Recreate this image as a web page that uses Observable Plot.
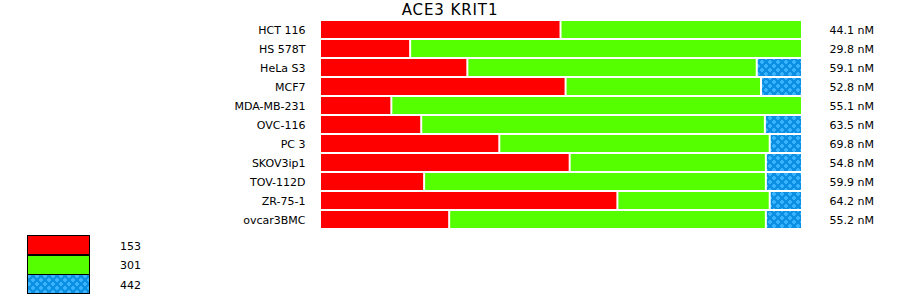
<!DOCTYPE html>
<html>
<head>
<meta charset="utf-8">
<script src="https://cdn.jsdelivr.net/npm/d3@7"></script>
<script src="https://cdn.jsdelivr.net/npm/@observablehq/plot@0.6"></script>
<style>
  html, body { margin: 0; padding: 0; background: #fff; }
  body { width: 900px; height: 299px; position: relative; overflow: hidden; font-family: "DejaVu Sans", sans-serif; }
  #title { position: absolute; left: 0; top: 0; width: 900px; height: 20px; text-align: center; font-size: 15px; letter-spacing: 0.9px; line-height: 20px; color: #000; }
  #chart { position: absolute; left: 0; top: 20px; }
  #legend { position: absolute; left: 27px; top: 235px; }
  .row { position: relative; height: 19.7px; }
  .sw { position: absolute; left: 0; top: 0; }
  .lab { position: absolute; left: 93px; top: 1.5px; font-size: 11px; line-height: 20px; color: #000; }
</style>
</head>
<body>
<svg width="0" height="0" style="position:absolute">
  <defs>
    <pattern id="dots" width="8" height="8" patternUnits="userSpaceOnUse">
      <rect width="8" height="8" fill="#0b8fe2"/>
      <path d="M1 0h2v1h1v2h-1v1h-2v-1h-1v-2h1z" fill="#39b2ff"/>
      <path d="M5 4h2v1h1v2h-1v1h-2v-1h-1v-2h1z" fill="#39b2ff"/>
    </pattern>
  </defs>
</svg>
<div id="title">ACE3 KRIT1</div>
<div id="chart"></div>
<div id="legend"></div>
<script>
const cellLines = ["HCT 116","HS 578T","HeLa S3","MCF7","MDA-MB-231","OVC-116","PC 3","SKOV3ip1","TOV-112D","ZR-75-1","ovcar3BMC"];
const series = ["153","301","442"];
const v153 = [49.9, 18.7, 30.6, 50.9, 14.8, 21.0, 37.2, 51.8, 21.6, 61.7, 26.8];
const v301 = [50.1, 81.3, 60.1, 40.5, 85.2, 71.3, 56.1, 40.7, 70.9, 31.6, 65.7];
const v442 = [0, 0, 9.4, 8.5, 0, 7.7, 6.7, 7.5, 7.5, 6.7, 7.5];
const ic50Labels = ["44.1 nM","29.8 nM","59.1 nM","52.8 nM","55.1 nM","63.5 nM","69.8 nM","54.8 nM","59.9 nM","64.2 nM","55.2 nM"];
const colors = ["#ff0000", "#55ff00", "url(#dots)"];

const rows = [];
cellLines.forEach((c, i) => {
  [v153, v301, v442].forEach((arr, k) => {
    if (arr[i] > 0) rows.push({cell: c, series: series[k], value: arr[i]});
  });
});
const labelRows = cellLines.map((c, i) => ({cell: c, label: ic50Labels[i]}));

const plot = Plot.plot({
  width: 900,
  height: 209,
  marginTop: 0,
  marginBottom: 0,
  marginLeft: 321,
  marginRight: 97,
  style: {fontFamily: "DejaVu Sans, sans-serif", fontSize: "11px", color: "#000", background: "transparent"},
  x: {axis: null, domain: [0, 1]},
  y: {domain: cellLines, padding: 0, axis: null, label: null},
  color: {domain: series, range: colors},
  marks: [
    Plot.barX(rows, Plot.stackX({
      x: "value", y: "cell", fill: "series", order: series, offset: "normalize",
      insetRight: 2, insetTop: 1, insetBottom: 1
    })),
    Plot.axisY({tickSize: 0, tickPadding: 16, fontSize: 11, fill: "#000", label: null}),
    Plot.text(labelRows, {y: "cell", text: "label", frameAnchor: "right", dx: 26, textAnchor: "start", fontSize: 11, fill: "#000"})
  ]
});
document.getElementById("chart").appendChild(plot);

const legend = d3.select("#legend");
series.forEach((s, i) => {
  const row = legend.append("div").attr("class", "row");
  const svg = row.append("svg").attr("class", "sw").attr("width", 63).attr("height", 20);
  svg.append("rect").attr("x", 0.5).attr("y", 0.5).attr("width", 62).attr("height", 19)
    .attr("fill", colors[i]).attr("stroke", "#000").attr("stroke-width", 1);
  row.append("div").attr("class", "lab").text(s);
});
</script>
</body>
</html>
